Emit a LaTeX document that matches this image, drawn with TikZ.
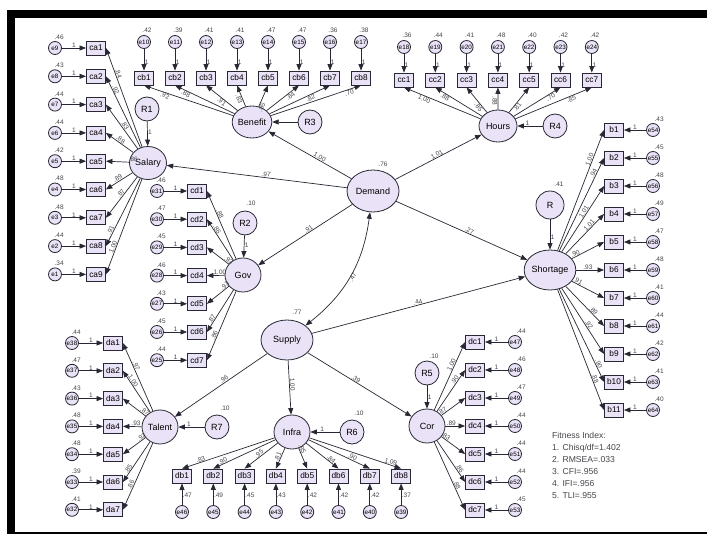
\documentclass[tikz,border=0pt]{standalone}
\usepackage{fontspec}
\setmainfont{Liberation Sans}
\usetikzlibrary{arrows.meta,shapes.geometric}
\definecolor{lav}{RGB}{234,226,246}
\definecolor{lin}{RGB}{40,40,52}
\definecolor{numc}{RGB}{70,70,76}
\begin{document}
\begin{tikzpicture}[x=1pt,y=-1pt,
 lat/.style={ellipse,draw=lin,fill=lav,line width=0.8pt,inner sep=0pt,font=\fontsize{9}{10}\selectfont},
 obs/.style={rectangle,draw=lin,fill=lav,line width=0.8pt,minimum width=19pt,minimum height=14pt,inner sep=0.6pt,font=\fontsize{8.3}{9}\selectfont},
 err/.style={circle,draw=lin,fill=lav,line width=0.8pt,minimum size=13pt,inner sep=0pt,font=\fontsize{6.3}{7}\selectfont},
 res/.style={circle,draw=lin,fill=lav,line width=0.8pt,minimum size=24pt,inner sep=0pt,font=\fontsize{9}{10}\selectfont},
 arr/.style={draw=lin,line width=0.7pt,-{Triangle[length=6.5pt,width=5pt]}},
 darr/.style={draw=lin,line width=0.7pt,{Triangle[length=6.5pt,width=5pt]}-{Triangle[length=6.5pt,width=5pt]}},
 num/.style={font=\fontsize{6.5}{7}\selectfont,text=numc,inner sep=0.4pt},
 fit/.style={font=\fontsize{8.6}{12}\selectfont,text=numc,align=left,anchor=north west,inner sep=0pt}
]
\useasboundingbox (0,0) rectangle (707,535);
\fill[white] (0,0) rectangle (707,535);
% frame
\fill[black] (7,10) rectangle (707,18);
\fill[black] (7,10) rectangle (15,534);
\fill[black] (7,532) rectangle (707,534);

% latent variables
\node[lat,minimum width=37pt,minimum height=33pt] (Salary) at (148,163) {Salary};
\node[lat,minimum width=36pt,minimum height=32pt] (Benefit) at (252,122) {Benefit};
\node[lat,minimum width=38pt,minimum height=32pt] (Hours) at (498,126) {Hours};
\node[lat,minimum width=52pt,minimum height=42pt] (Demand) at (373,191) {Demand};
\node[lat,minimum width=36pt,minimum height=34pt] (Gov) at (243,275) {Gov};
\node[lat,minimum width=52pt,minimum height=40pt] (Supply) at (287,340) {Supply};
\node[lat,minimum width=50pt,minimum height=40pt] (Shortage) at (550,270) {Shortage};
\node[lat,minimum width=36pt,minimum height=34pt] (Talent) at (160,427) {Talent};
\node[lat,minimum width=36pt,minimum height=34pt] (Infra) at (292,432) {Infra};
\node[lat,minimum width=36pt,minimum height=34pt] (Cor) at (427,426) {Cor};

% residuals
\node[res] (R1) at (147,109) {R1};
\node[res] (R3) at (310,122) {R3};
\node[res] (R4) at (555,126) {R4};
\node[res] (R2) at (245,223) {R2};
\node[res,minimum size=28pt] (R) at (550,205) {R};
\node[res] (R7) at (217,427) {R7};
\node[res] (R6) at (352,432) {R6};
\node[res] (R5) at (427,373) {R5};

\node[num] (vR2) at (251,203) {.10};
\node[num] (vR) at (559,184) {.41};
\node[num] (vR7) at (225,408) {.10};
\node[num] (vR6) at (359,413) {.10};
\node[num] (vR5) at (434,356) {.10};
\node[num] (vDemand) at (383,164) {.76};
\node[num] (vSupply) at (297,312) {.77};

\draw[arr] (R1) -- node[num,right,pos=0.45]{1} (Salary);
\draw[arr] (R3) -- (Benefit);
\draw[arr] (R4) -- node[num,above,pos=0.6]{1} (Hours);
\draw[arr] (R2) -- node[num,right,pos=0.45]{1} (Gov);
\draw[arr] (R) -- node[num,right,pos=0.6]{1} (Shortage);
\draw[arr] (R7) -- node[num,above,pos=0.6]{1} (Talent);
\draw[arr] (R6) -- node[num,above,pos=0.6]{1} (Infra);
\draw[arr] (R5) -- node[num,right,pos=0.5]{1} (Cor);

% Salary block
\foreach \kk/\va/\lo [evaluate=\kk as \yy using 48+28.3*(\kk-1), evaluate=\kk as \en using int(10-\kk)] in
 {1/.46/.84,2/.43/.92,3/.44/.83,4/.44/.88,5/.42/.86,6/.48/.89,7/.48/.87,8/.44/.91,9/.34/1.00} {
 \node[obs] (ca\kk) at (96,\yy) {ca\kk};
 \node[err] (e\en) at (55,\yy) {e\en};
 \node[num,anchor=south west] (v\en) at ([xshift=-1pt,yshift=1pt]e\en.north) {\va};
 \draw[arr] (e\en) -- node[num,above]{1} (ca\kk);
 \pgfmathsetmacro\pp{1-(16+12*mod(\kk,2))/(veclen(42,163-\yy)-18)}
 \draw[arr] (Salary) -- node[num,pos=\pp,sloped,above]{\lo} (ca\kk.east);
}

% Benefit block
\foreach \kk/\va/\lo [evaluate=\kk as \xx using 144+31*(\kk-1), evaluate=\kk as \en using int(9+\kk)] in
 {1/.42/.92,2/.39/.88,3/.41/.91,4/.41/.83,5/.47/.85,6/.47/.84,7/.36/.82,8/.38/.70} {
 \node[obs] (cb\kk) at (\xx,78) {cb\kk};
 \node[err] (e\en) at (\xx,42) {e\en};
 \node[num,anchor=south] (v\en) at ([xshift=3pt,yshift=2pt]e\en.north) {\va};
 \draw[arr] (e\en) -- node[num,right,pos=0.6]{1} (cb\kk);
 \pgfmathsetmacro\pp{1-(14+10*mod(\kk,2))/(veclen(252-\xx,37)-16)}
 \draw[arr] (Benefit) -- node[num,pos=\pp,sloped,below]{\lo} (cb\kk.south);
}

% Hours block
\foreach \kk/\va/\lo [evaluate=\kk as \xx using 404+31.3*(\kk-1), evaluate=\kk as \en using int(17+\kk)] in
 {1/.36/1.00,2/.44/.88,3/.41/.85,4/.48/.88,5/.40/.81,6/.42/.70,7/.42/.85} {
 \node[obs] (cc\kk) at (\xx,80) {cc\kk};
 \node[err] (e\en) at (\xx,47) {e\en};
 \node[num,anchor=south] (v\en) at ([xshift=3pt,yshift=2pt]e\en.north) {\va};
 \draw[arr] (e\en) -- node[num,right,pos=0.6]{1} (cc\kk);
 \pgfmathsetmacro\pp{1-(14+10*mod(\kk,2))/(veclen(498-\xx,39)-16)}
 \draw[arr] (Hours) -- node[num,pos=\pp,sloped,below]{\lo} (cc\kk.south);
}

% Shortage block
\foreach \kk/\va/\lo [evaluate=\kk as \yy using 130+28*(\kk-1), evaluate=\kk as \en using int(53+\kk)] in
 {1/.43/1.00,2/.45/.94,3/.48/1.01,4/.49/1.01,5/.47/.90,6/.48/.93,7/.41/.91,8/.44/.89,9/.42/.92,10/.41/.90,11/.40/.88} {
 \node[obs] (b\kk) at (614,\yy) {b\kk};
 \node[err] (e\en) at (653,\yy) {e\en};
 \node[num,anchor=south west] (v\en) at ([xshift=1pt,yshift=1pt]e\en.north) {\va};
 \draw[arr] (e\en) -- node[num,above]{1} (b\kk);
 \pgfmathsetmacro\pp{1-(18+14*mod(\kk,2))/(veclen(55,270-\yy)-24)}
 \draw[arr] (Shortage) -- node[num,pos=\pp,sloped,above]{\lo} (b\kk.west);
}

% Gov block
\foreach \kk/\va/\lo [evaluate=\kk as \yy using 191+28.2*(\kk-1), evaluate=\kk as \en using int(32-\kk)] in
 {1/.46/.88,2/.47/.86,3/.45/.93,4/.46/1.00,5/.43/.93,6/.45/.87,7/.44/.86} {
 \node[obs] (cd\kk) at (197,\yy) {cd\kk};
 \node[err] (e\en) at (157,\yy) {e\en};
 \node[num,anchor=south west] (v\en) at ([xshift=-1pt,yshift=1pt]e\en.north) {\va};
 \draw[arr] (e\en) -- node[num,above]{1} (cd\kk);
 \pgfmathsetmacro\pp{1-(14+12*mod(\kk,2))/(veclen(37,275-\yy)-18)}
 \draw[arr] (Gov) -- node[num,pos=\pp,sloped,above]{\lo} (cd\kk.east);
}

% Talent block
\foreach \kk/\va/\lo [evaluate=\kk as \yy using 343+27.8*(\kk-1), evaluate=\kk as \en using int(39-\kk)] in
 {1/.44/.97,2/.47/1.00,3/.43/.87,4/.48/.93,5/.48/.92,6/.39/.85,7/.41/.86} {
 \node[obs] (da\kk) at (113,\yy) {da\kk};
 \node[err] (e\en) at (72,\yy) {e\en};
 \node[num,anchor=south west] (v\en) at ([xshift=-1pt,yshift=1pt]e\en.north) {\va};
 \draw[arr] (e\en) -- node[num,above]{1} (da\kk);
 \pgfmathsetmacro\pp{1-(14+12*mod(\kk,2))/(veclen(38,427-\yy)-18)}
 \draw[arr] (Talent) -- node[num,pos=\pp,sloped,above]{\lo} (da\kk.east);
}

% Cor block
\foreach \kk/\va/\lo [evaluate=\kk as \yy using 342+28*(\kk-1), evaluate=\kk as \en using int(46+\kk)] in
 {1/.44/1.00,2/.46/.90,3/.47/.87,4/.44/.89,5/.44/.83,6/.44/.86,7/.45/.88} {
 \node[obs] (dc\kk) at (475,\yy) {dc\kk};
 \node[err] (e\en) at (515,\yy) {e\en};
 \node[num,anchor=south west] (v\en) at ([xshift=1pt,yshift=1pt]e\en.north) {\va};
 \draw[arr] (e\en) -- node[num,above]{1} (dc\kk);
 \pgfmathsetmacro\pp{1-(14+12*mod(\kk,2))/(veclen(38,426-\yy)-18)}
 \draw[arr] (Cor) -- node[num,pos=\pp,sloped,above]{\lo} (dc\kk.west);
}

% Infra block
\foreach \kk/\va/\lo [evaluate=\kk as \xx using 182+31.3*(\kk-1), evaluate=\kk as \en using int(47-\kk)] in
 {1/.47/.83,2/.49/.90,3/.45/.95,4/.43/.81,5/.42/.85,6/.42/.84,7/.42/.90,8/.37/1.09} {
 \node[obs] (db\kk) at (\xx,476) {db\kk};
 \node[err] (e\en) at (\xx,512) {e\en};
 \draw[arr] (e\en) -- node[num,right,pos=0.45]{\va} (db\kk);
 \pgfmathsetmacro\pp{1-(12+9*mod(\kk,2))/(veclen(292-\xx,37)-17)}
 \draw[arr] (Infra) -- node[num,pos=\pp,sloped,above]{\lo} (db\kk.north);
}

% structural paths
\draw[arr] (Demand) -- node[num,pos=0.45,sloped,above]{.97} (Salary);
\draw[arr] (Demand) -- node[num,pos=0.4,sloped,above]{1.00} (Benefit);
\draw[arr] (Demand) -- node[num,pos=0.5,sloped,above]{1.01} (Hours);
\draw[arr] (Demand) -- node[num,pos=0.45,sloped,above]{.91} (Gov);
\draw[arr] (Demand) -- node[num,pos=0.55,sloped,above]{.27} (Shortage);
\draw[arr] (Supply) -- node[num,pos=0.5,sloped,above]{.44} (Shortage);
\draw[arr] (Supply) -- node[num,pos=0.45,sloped,above]{.96} (Talent);
\draw[arr] (Supply) -- node[num,pos=0.45,sloped,above]{1.00} (Infra);
\draw[arr] (Supply) -- node[num,pos=0.45,sloped,above]{.39} (Cor);
\draw[darr] (Demand) to[bend left=22] node[num,pos=0.5,sloped,below]{.47} (Supply);

% fitness index
\node[fit] (fitness) at (552,432) {Fitness Index:\\1. Chisq/df=1.402\\2. RMSEA=.033\\3. CFI=.956\\4. IFI=.956\\5. TLI=.955};
\end{tikzpicture}
\end{document}
